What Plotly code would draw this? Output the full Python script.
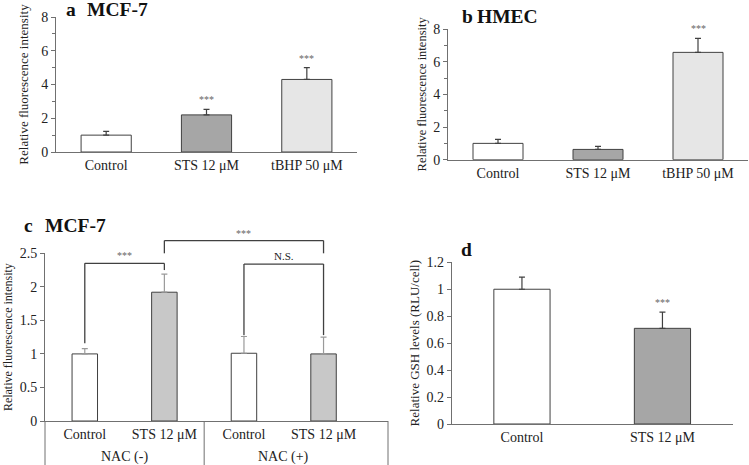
import plotly.graph_objects as go

# ---------------- data ----------------
a_cats = ["Control", "STS 12 μM", "tBHP 50 μM"]
a_vals = [1.0, 2.2, 4.3]
a_err = [0.22, 0.33, 0.70]
a_sig = ["", "***", "***"]

b_cats = ["Control", "STS 12 μM", "tBHP 50 μM"]
b_vals = [1.0, 0.63, 6.57]
b_err = [0.25, 0.18, 0.86]
b_sig = ["", "", "***"]

c_cats = ["Control", "STS 12 μM", "Control", "STS 12 μM"]
c_groups = ["NAC (-)", "NAC (+)"]
c_vals = [1.0, 1.92, 1.01, 1.0]
c_err = [0.08, 0.27, 0.25, 0.25]
# brackets: (left bar, right bar, top, left leg end, right leg end, label)
c_brackets = [
    (0, 1, 2.35, 1.16, 2.25, "***"),
    (1, 3, 2.69, 2.50, 2.50, "***"),
    (2, 3, 2.34, 1.28, 1.28, "N.S."),
]

d_cats = ["Control", "STS 12 μM"]
d_vals = [1.0, 0.71]
d_err = [0.09, 0.12]
d_sig = ["", "***"]

# ---------------- style ----------------
FONT = "Liberation Serif"
EDGE = "#404040"
AXC = "#707070"
WHITE = "#ffffff"
DARK = "#a6a6a6"
LIGHT = "#e6e6e6"
MID = "#c8c8c8"

W, H = 749, 465


def px(x):
    return x / W


def py(y):
    return (H - y) / H


fig = go.Figure()


def add_bars(xa, ya, xs, vals, errs, colors, width, err_color=EDGE):
    fig.add_trace(go.Bar(
        x=xs, y=vals, width=width, xaxis=xa, yaxis=ya,
        marker=dict(color=colors, line=dict(color=EDGE, width=1)),
        error_y=dict(type="data", array=errs, arrayminus=[0] * len(errs),
                     symmetric=False, color=err_color, thickness=1.2, width=3),
        showlegend=False, hoverinfo="skip",
    ))


pos_a = list(range(len(a_cats)))
pos_b = list(range(len(b_cats)))
pos_c = list(range(len(c_cats)))
pos_d = list(range(len(d_cats)))

add_bars("x", "y", pos_a, a_vals, a_err, [WHITE, DARK, LIGHT], 0.5)
add_bars("x2", "y2", pos_b, b_vals, b_err, [WHITE, DARK, LIGHT], 0.5)
add_bars("x3", "y3", pos_c, c_vals, c_err, [WHITE, MID, WHITE, MID], 0.32, err_color="#9a9a9a")
add_bars("x4", "y4", pos_d, d_vals, d_err, [WHITE, DARK], 0.4)

tickfont = dict(family=FONT, size=14, color="#222")


def xaxis(domain, rng, pos, labels, anchor):
    return dict(domain=domain, range=rng, tickvals=pos, ticktext=labels,
                showline=True, linecolor=AXC, linewidth=1, ticks="",
                showgrid=False, zeroline=False, tickfont=tickfont,
                anchor=anchor, fixedrange=True)


def yaxis(domain, rng, dtick, title, anchor, minor=None, standoff=10, tsize=13):
    d = dict(domain=domain, range=rng, dtick=dtick, tick0=0,
             showline=True, linecolor=AXC, linewidth=1,
             ticks="outside", ticklen=4, tickcolor=AXC,
             showgrid=False, zeroline=False, tickfont=tickfont,
             title=dict(text=title, font=dict(family=FONT, size=tsize, color="#222"),
                        standoff=standoff),
             anchor=anchor, fixedrange=True)
    if minor:
        d["minor"] = dict(dtick=minor, ticks="outside", ticklen=3, tickcolor=AXC, showgrid=False)
    return d


YT = "Relative fluorescence intensity"
fig.update_layout(
    width=W, height=H, margin=dict(l=0, r=0, t=0, b=0, autoexpand=False),
    paper_bgcolor="white", plot_bgcolor="white",
    font=dict(family=FONT, color="#222"),
    xaxis=xaxis([px(56), px(357)], [-0.5, 2.5], pos_a, a_cats, "y"),
    yaxis=yaxis([py(152), py(17)], [0, 8], 2, YT, "x", minor=1, standoff=9, tsize=13),
    xaxis2=xaxis([px(448), px(748)], [-0.5, 2.5], pos_b, b_cats, "y2"),
    yaxis2=yaxis([py(159.7), py(29)], [0, 8], 2, YT, "x2", minor=1, standoff=3, tsize=12.5),
    xaxis3=xaxis([px(45), px(388)], [-0.5, 3.81], pos_c, c_cats, "y3"),
    yaxis3=yaxis([py(421), py(253.3)], [0, 2.5], 0.5, YT, "x3", standoff=4, tsize=12),
    xaxis4=xaxis([px(451.7), px(732.7)], [-0.5, 1.5], pos_d, d_cats, "y4"),
    yaxis4=yaxis([py(424), py(262.3)], [0, 1.2], 0.2, "Relative GSH levels (RLU/cell)", "x4",
                 standoff=3, tsize=13),
)

ann = []


def sig_marks(xa, ya, pos, vals, errs, sig):
    for p, v, e, s in zip(pos, vals, errs, sig):
        if s:
            ann.append(dict(x=p, y=v + e, xref=xa, yref=ya, text=s, showarrow=False,
                            yanchor="bottom", yshift=2,
                            font=dict(family=FONT, size=10, color="#666")))


sig_marks("x", "y", pos_a, a_vals, a_err, a_sig)
sig_marks("x2", "y2", pos_b, b_vals, b_err, b_sig)
sig_marks("x4", "y4", pos_d, d_vals, d_err, d_sig)


# panel titles
def title(letter, name, xl, xn, y):
    ann.append(dict(x=px(xl), y=py(y), xref="paper", yref="paper", text="<b>%s</b>" % letter,
                    showarrow=False, xanchor="left", yanchor="middle",
                    font=dict(family=FONT, size=19.5, color="#111")))
    if name:
        ann.append(dict(x=px(xn), y=py(y), xref="paper", yref="paper", text="<b>%s</b>" % name,
                        showarrow=False, xanchor="left", yanchor="middle",
                        font=dict(family=FONT, size=19.5, color="#111")))


title("a", "MCF-7", 64, 85, 9)
title("b", "HMEC", 460, 475, 16)
title("c", "MCF-7", 22, 43, 225)
title("d", "", 459, 0, 250)

shapes = []

# panel c: map data y to paper y (brackets extend above the axis range)
c_dom = [py(421), py(253.3)]
c_rng = [0, 2.5]


def cy(v):
    return c_dom[0] + (v - c_rng[0]) / (c_rng[1] - c_rng[0]) * (c_dom[1] - c_dom[0])


for l, r, top, yl, yr, lab in c_brackets:
    for (xa0, ya0, xa1, ya1) in [(l, yl, l, top), (l, top, r, top), (r, top, r, yr)]:
        shapes.append(dict(type="line", xref="x3", yref="paper",
                           x0=xa0, x1=xa1, y0=cy(ya0), y1=cy(ya1),
                           line=dict(color=EDGE, width=1.3)))
    ann.append(dict(x=(l + r) / 2, y=cy(top), xref="x3", yref="paper", text=lab, showarrow=False,
                    yanchor="bottom", yshift=0,
                    font=dict(family=FONT, size=10 if lab == "***" else 11,
                              color="#666" if lab == "***" else "#222")))

# group table under panel c
y_axis_c = py(421)
for xv, xr in [(0, "x3 domain"), (1.5, "x3"), (1, "x3 domain")]:
    shapes.append(dict(type="line", xref=xr, yref="paper", x0=xv, x1=xv, y0=0, y1=y_axis_c,
                       line=dict(color=AXC, width=1)))
for gi, g in enumerate(c_groups):
    ann.append(dict(x=gi * 2 + 0.5, y=py(457), xref="x3", yref="paper", text=g, showarrow=False,
                    yanchor="middle", font=dict(family=FONT, size=14, color="#222")))

fig.update_layout(annotations=ann, shapes=shapes)
fig.write_html("out.html", config={"displayModeBar": False, "staticPlot": True},
               post_script="document.body.style.margin='0px';document.body.style.overflow='hidden';")
